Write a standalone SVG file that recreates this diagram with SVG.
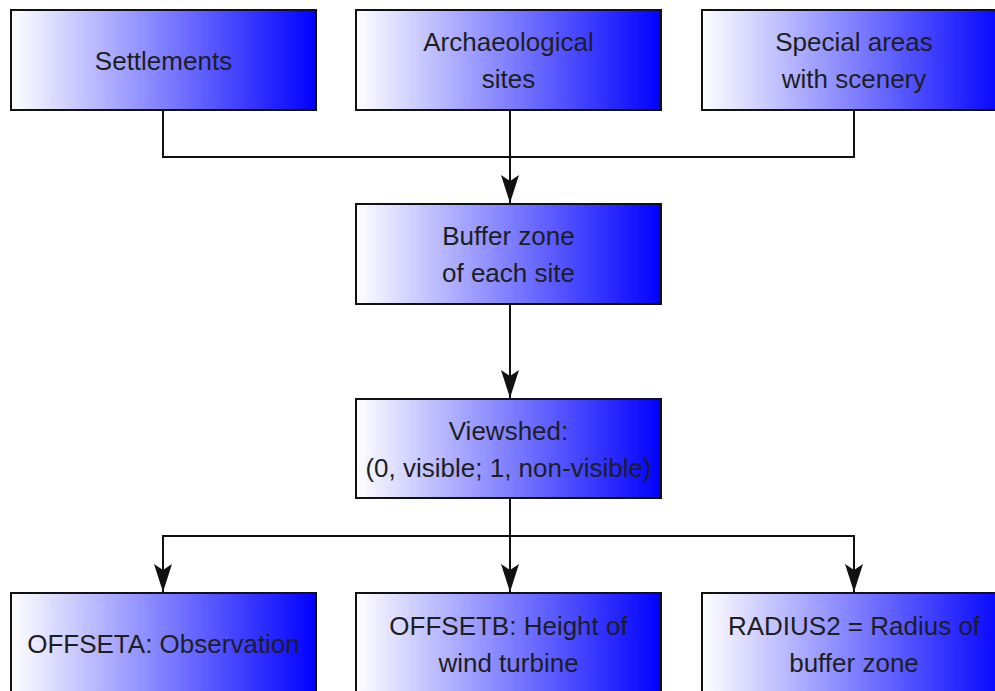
<svg xmlns="http://www.w3.org/2000/svg" width="995" height="691" viewBox="0 0 995 691">
  <style>
    .box { fill: url(#grad); stroke: #111; stroke-width: 2; }
    .lbl { font-family: "Liberation Sans", Arial, sans-serif; font-size: 26px; fill: #1e1e1e; text-anchor: middle; }
    .conn { fill: none; stroke: #111; stroke-width: 2; }
  </style>
  <defs>
    <linearGradient id="grad" x1="0" y1="0" x2="1" y2="0">
      <stop offset="0" stop-color="#ffffff"/>
      <stop offset="1" stop-color="#0000ff"/>
    </linearGradient>
    <marker id="arrow" markerUnits="userSpaceOnUse" markerWidth="30" markerHeight="22" viewBox="0 -11 30 22" refX="28" refY="0" orient="auto">
      <path d="M0,-9 L28,0 L0,9 L6,0 Z" fill="#111"/>
    </marker>
  </defs>
  <rect width="995" height="691" fill="#ffffff"/>

  <g id="connectors">
    <path class="conn" d="M163,110 V157 H854 V110"/>
    <path class="conn" d="M510,110 V203" marker-end="url(#arrow)"/>
    <path class="conn" d="M510,304 V398" marker-end="url(#arrow)"/>
    <path class="conn" d="M510,498 V592" marker-end="url(#arrow)"/>
    <path class="conn" d="M163,592 V536 H854 V592" marker-end="url(#arrow)"/>
    <path class="conn" d="M163,536 V592" marker-end="url(#arrow)"/>
  </g>

  <g id="settlements">
    <rect class="box" x="11" y="10" width="305" height="100"/>
    <text class="lbl" x="163.5" y="70">Settlements</text>
  </g>
  <g id="archaeological">
    <rect class="box" x="356" y="10" width="305" height="100"/>
    <text class="lbl" x="508.5" y="51">Archaeological</text>
    <text class="lbl" x="508.5" y="88">sites</text>
  </g>
  <g id="special-areas">
    <rect class="box" x="702" y="10" width="305" height="100"/>
    <text class="lbl" x="854" y="51">Special areas</text>
    <text class="lbl" x="854" y="88">with scenery</text>
  </g>
  <g id="buffer-zone">
    <rect class="box" x="356" y="204" width="305" height="100"/>
    <text class="lbl" x="508.5" y="245">Buffer zone</text>
    <text class="lbl" x="508.5" y="282">of each site</text>
  </g>
  <g id="viewshed">
    <rect class="box" x="356" y="399" width="305" height="99"/>
    <text class="lbl" x="508.5" y="440">Viewshed:</text>
    <text class="lbl" x="508.5" y="477">(0, visible; 1, non-visible)</text>
  </g>
  <g id="offseta">
    <rect class="box" x="11" y="593" width="305" height="100"/>
    <text class="lbl" x="163.5" y="653">OFFSETA: Observation</text>
  </g>
  <g id="offsetb">
    <rect class="box" x="356" y="593" width="305" height="100"/>
    <text class="lbl" x="508.5" y="635">OFFSETB: Height of</text>
    <text class="lbl" x="508.5" y="672">wind turbine</text>
  </g>
  <g id="radius2">
    <rect class="box" x="702" y="593" width="305" height="100"/>
    <text class="lbl" x="854" y="635">RADIUS2 = Radius of</text>
    <text class="lbl" x="854" y="672">buffer zone</text>
  </g>
</svg>
